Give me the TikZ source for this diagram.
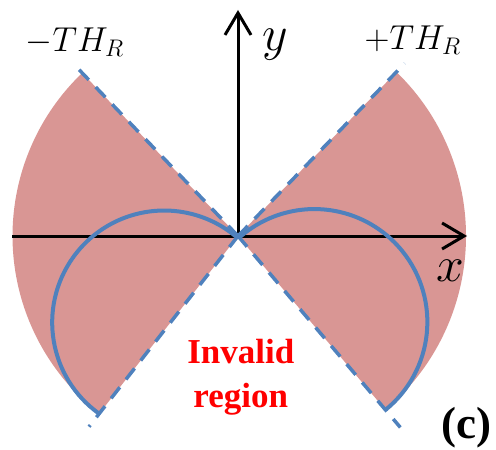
\documentclass[tikz,border=0pt]{standalone}
\usepackage{fontspec}
\setmainfont{Liberation Serif}
\usetikzlibrary{arrows.meta}
\definecolor{sectorpink}{HTML}{D99694}
\definecolor{lineblue}{HTML}{4F81BD}
\definecolor{labelred}{HTML}{FF0000}
\begin{document}
\begin{tikzpicture}[x=0.5pt,y=0.5pt,
  axis/.style={line width=1.5pt,-{Straight Barb[length=11pt,width=13pt]}},
  sector/.style={fill=sectorpink,draw=none},
  bound/.style={draw=lineblue,line width=1.75pt,dash pattern=on 7pt off 5pt},
  circ/.style={draw=lineblue,line width=2pt},
  axlabel/.style={font=\fontsize{26}{30}\selectfont,inner sep=0pt},
  thlabel/.style={font=\fontsize{17}{20}\selectfont,inner sep=0pt,anchor=base},
  redlabel/.style={text=labelred,font=\bfseries\fontsize{17.5}{21}\selectfont,inner sep=0pt,anchor=base}]
\useasboundingbox (-238,-213) rectangle (258,236);
% key points
\coordinate (O) at (0,0);
\coordinate (UL) at (133.7:225.5);
\coordinate (LL) at (232:225.5);
\coordinate (UR) at (46:228);
\coordinate (LR) at (-49.7:228);
\coordinate (ULt) at (133.7:236);
\coordinate (URt) at (46:240);
\coordinate (LLt) at (232:242);
\coordinate (LRt) at (-49.7:251);
\coordinate (xs) at (-225.5,0);
\coordinate (xe) at (229,0);
\coordinate (ye) at (0,226);
% sectors
\fill[sector] (O) -- (UL) arc[start angle=133.7,end angle=232,radius=112.75pt] -- cycle;
\fill[sector] (O) -- (UR) arc[start angle=46,end angle=-49.7,radius=114pt] -- cycle;
% axes
\draw[axis] (xs) -- (xe);
\draw[axis] (O) -- (ye);
% dashed boundaries
\draw[bound] (O) -- (ULt);
\draw[bound] (O) -- (URt);
\draw[bound] (O) -- (LLt);
\draw[bound] (O) -- (LRt);
% circles
\draw[circ] (LL) arc[start angle=234.5,end angle=49.5,radius=56pt];
\draw[circ] (LR) arc[start angle=-51,end angle=131.5,radius=56.5pt];
% labels
\node[axlabel] (ylab) at (37,191) {$y$};
\node[axlabel] (xlab) at (212,-34.5) {$x$};
\node[thlabel] (thm) at (-163,184.3) {$-TH_R$};
\node[thlabel] (thp) at (175,186.5) {$+TH_R$};
\node[redlabel] (inv) at (2.8,-127.3) {Invalid};
\node[redlabel] (reg) at (2.8,-171) {region};
\node[font=\bfseries\fontsize{22.5}{26}\selectfont,inner sep=0pt,anchor=base] (clab) at (228.7,-202) {(c)};
\end{tikzpicture}
\end{document}
